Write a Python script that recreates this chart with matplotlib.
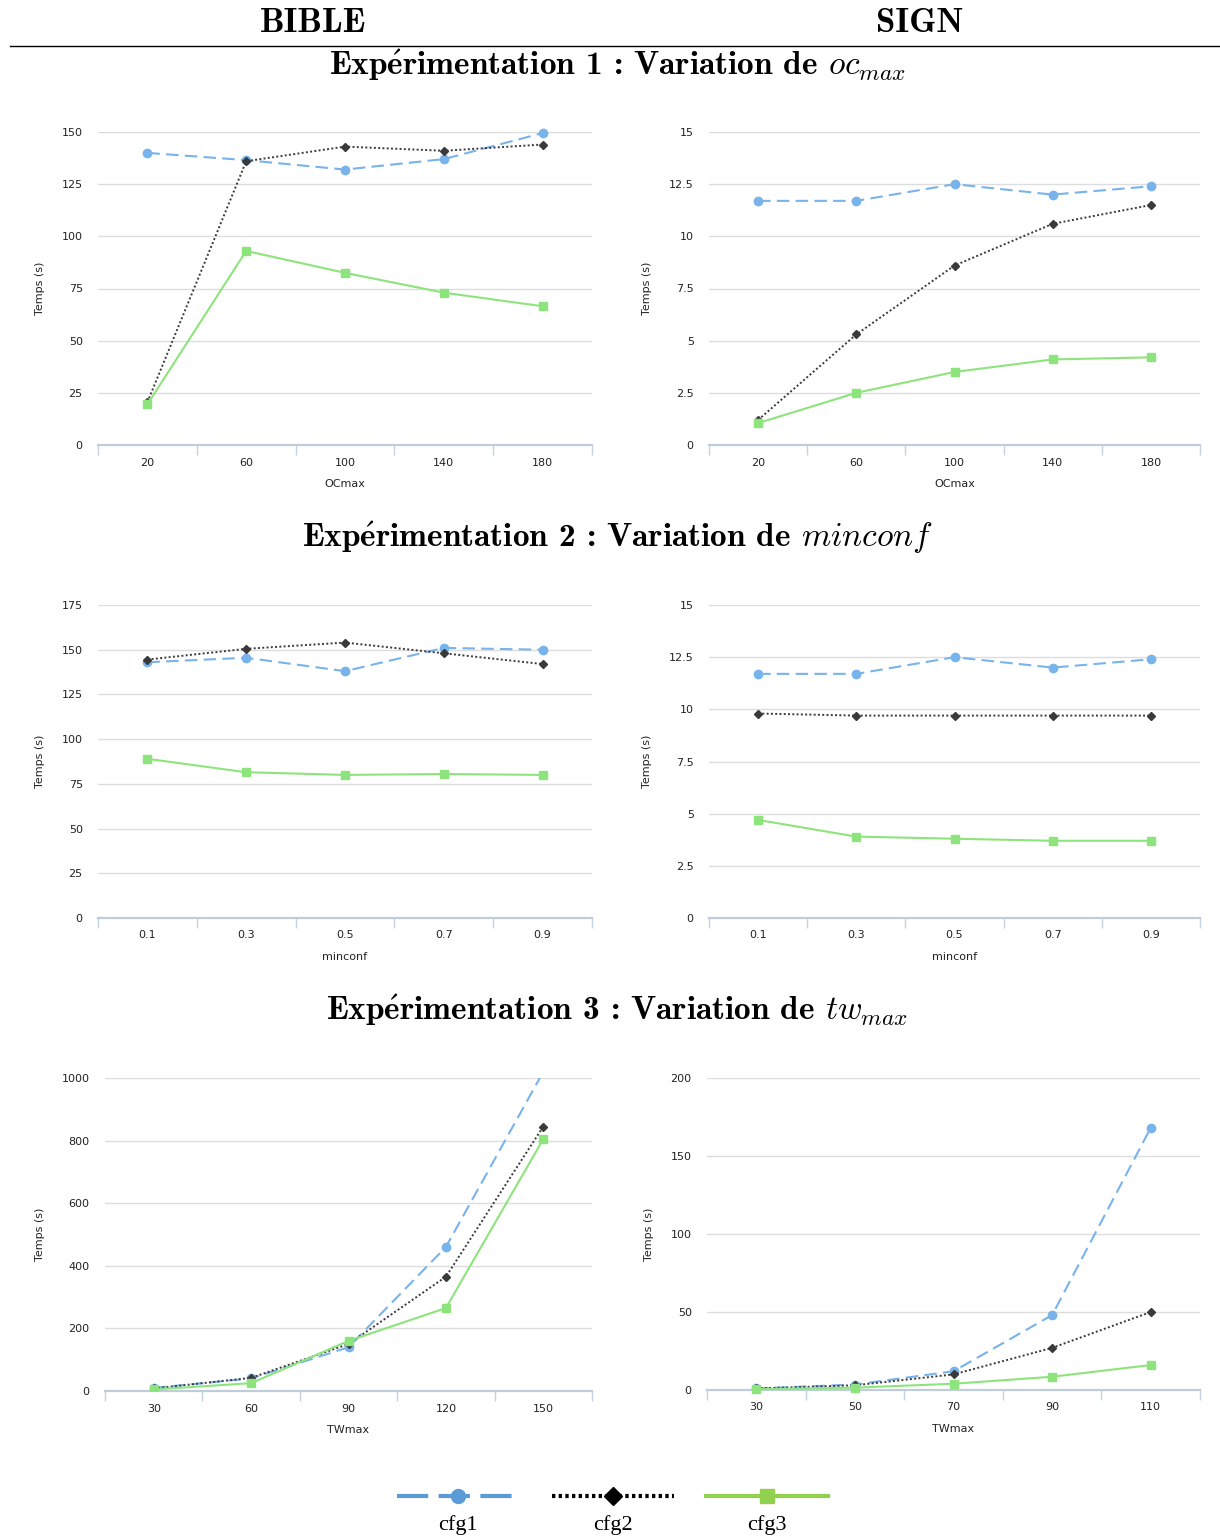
import matplotlib
matplotlib.use('Agg')
import matplotlib.pyplot as plt
from matplotlib.lines import Line2D
from matplotlib.ticker import FuncFormatter, FixedLocator

plt.rcParams['mathtext.fontset'] = 'cm'
plt.rcParams['font.family'] = ['DejaVu Sans']

W, H = 1220, 1539

# category labels
oc_values = ['20', '60', '100', '140', '180']
minconf_values = ['0.1', '0.3', '0.5', '0.7', '0.9']
tw_bible_values = ['30', '60', '90', '120', '150']
tw_sign_values = ['30', '50', '70', '90', '110']

# Experimentation 1 (OCmax)
bible1_cfg1 = [140, 136.5, 132, 137, 149.5]
bible1_cfg2 = [20.5, 136, 143, 141, 144]
bible1_cfg3 = [19.5, 93, 82.5, 73, 66.5]
sign1_cfg1 = [11.7, 11.7, 12.5, 12.0, 12.4]
sign1_cfg2 = [1.2, 5.3, 8.6, 10.6, 11.5]
sign1_cfg3 = [1.05, 2.5, 3.5, 4.1, 4.2]

# Experimentation 2 (minconf)
bible2_cfg1 = [143, 145.5, 138, 151, 150]
bible2_cfg2 = [144.5, 150.5, 154, 148, 142]
bible2_cfg3 = [89, 81.5, 80, 80.5, 80]
sign2_cfg1 = [11.7, 11.7, 12.5, 12.0, 12.4]
sign2_cfg2 = [9.8, 9.7, 9.7, 9.7, 9.7]
sign2_cfg3 = [4.7, 3.9, 3.8, 3.7, 3.7]

# Experimentation 3 (TWmax)
bible3_cfg1 = [10, 40, 140, 460, 1020]
bible3_cfg2 = [8, 42, 150, 365, 845]
bible3_cfg3 = [5, 25, 160, 265, 805]
sign3_cfg1 = [1, 3.5, 12, 48, 168]
sign3_cfg2 = [1, 3, 10, 27, 50]
sign3_cfg3 = [0.5, 1.5, 4, 8.5, 16]

styles = {
    'cfg1': dict(color='#79B3EB', linestyle=(0, (6, 3)), lw=1.5, marker='o', ms=6),
    'cfg2': dict(color='#3A3A3A', linestyle=(0, (1, 1.2)), lw=1.4, marker='D', ms=3.8),
    'cfg3': dict(color='#8EE47C', linestyle='-', lw=1.5, marker='s', ms=5.5),
}


def rect(left, top, right, bottom):
    return [left / W, 1 - bottom / H, (right - left) / W, (bottom - top) / H]


def fmt(v, pos):
    return '{:g}'.format(v)


def draw_chart(fig, box, cats, series, ymax, ystep, xlabel):
    ax = fig.add_axes(rect(*box))
    xs = range(len(cats))
    clip = max(max(s) for s in series) > ymax
    for name, vals in zip(['cfg1', 'cfg2', 'cfg3'], series):
        st = styles[name]
        ax.plot(xs, vals, color=st['color'], linestyle=st['linestyle'], lw=st['lw'],
                marker=st['marker'], markersize=st['ms'], markerfacecolor=st['color'],
                markeredgecolor=st['color'], clip_on=clip, zorder=3)
    ax.set_xlim(-0.5, len(cats) - 0.5)
    ax.set_ylim(0, ymax)
    yt = [i * ystep for i in range(int(round(ymax / ystep)) + 1)]
    ax.set_yticks(yt)
    ax.yaxis.set_major_formatter(FuncFormatter(fmt))
    ax.set_xticks(list(xs))
    ax.set_xticklabels(cats)
    ax.xaxis.set_minor_locator(FixedLocator([i - 0.5 for i in range(len(cats) + 1)]))
    ax.tick_params(axis='y', length=0, pad=11, labelsize=8, labelcolor='#222222')
    ax.tick_params(axis='x', which='major', length=0, pad=9, labelsize=8, labelcolor='#222222')
    ax.tick_params(axis='x', which='minor', length=7, width=1, color='#C5D2E0', direction='out')
    for s in ['top', 'right', 'left']:
        ax.spines[s].set_visible(False)
    ax.spines['bottom'].set_color('#BFCCDC')
    ax.spines['bottom'].set_linewidth(1.6)
    ax.grid(axis='y', color='#DDDDDD', lw=1)
    ax.set_axisbelow(True)
    ax.set_xlabel(xlabel, fontsize=8, color='#222222', labelpad=8)
    ax.set_ylabel('Temps (s)', fontsize=8, color='#222222', labelpad=12)
    return ax


fig = plt.figure(figsize=(W / 100, H / 100), dpi=100)

# header
fig.text(313 / W, 1 - 23 / H, 'BIBLE', ha='center', va='center', fontsize=25, family=['cmb10'])
fig.text(920 / W, 1 - 23 / H, 'SIGN', ha='center', va='center', fontsize=25, family=['cmb10'])
fig.add_artist(Line2D([10 / W, 1], [1 - 46 / H, 1 - 46 / H], color='black', lw=1))

titles = [
    (65, r'Exp$\mathbf{\acute{e}}$rimentation 1 : Variation de $oc_{max}$'),
    (538, r'Exp$\mathbf{\acute{e}}$rimentation 2 : Variation de $minconf$'),
    (1010, r'Exp$\mathbf{\acute{e}}$rimentation 3 : Variation de $tw_{max}$'),
]
for y, t in titles:
    fig.text(617 / W, 1 - y / H, t, ha='center', va='center', fontsize=24, family=['cmb10'])

draw_chart(fig, (98, 132, 592, 445), oc_values, [bible1_cfg1, bible1_cfg2, bible1_cfg3], 150, 25, 'OCmax')
draw_chart(fig, (709, 132, 1200, 445), oc_values, [sign1_cfg1, sign1_cfg2, sign1_cfg3], 15, 2.5, 'OCmax')
draw_chart(fig, (98, 605, 592, 918), minconf_values, [bible2_cfg1, bible2_cfg2, bible2_cfg3], 175, 25, 'minconf')
draw_chart(fig, (709, 605, 1200, 918), minconf_values, [sign2_cfg1, sign2_cfg2, sign2_cfg3], 15, 2.5, 'minconf')
draw_chart(fig, (105, 1078, 592, 1391), tw_bible_values, [bible3_cfg1, bible3_cfg2, bible3_cfg3], 1000, 200, 'TWmax')
draw_chart(fig, (707, 1078, 1200, 1390), tw_sign_values, [sign3_cfg1, sign3_cfg2, sign3_cfg3], 200, 50, 'TWmax')

# legend below the charts
leg_names = ['cfg1', 'cfg2', 'cfg3']
leg_styles = [
    dict(color='#5B9BD5', linestyle=(0, (7.5, 2.5)), lw=3, marker='o', ms=10),
    dict(color='#000000', linestyle=(0, (0.8, 0.8)), lw=3, marker='D', ms=9),
    dict(color='#92D050', linestyle='-', lw=3, marker='s', ms=10),
]
lax = fig.add_axes(rect(380, 1470, 850, 1539))
lax.set_xlim(0, 3)
lax.set_ylim(0, 1)
lax.axis('off')
for i, (name, st) in enumerate(zip(leg_names, leg_styles)):
    cx = 0.5 + i * 0.985
    lax.plot([cx - 0.39, cx, cx + 0.39], [0.63, 0.63, 0.63], color=st['color'], linestyle=st['linestyle'],
             lw=st['lw'], marker=st['marker'], markersize=st['ms'], markevery=[1],
             markerfacecolor=st['color'], markeredgecolor=st['color'])
    lax.text(cx, 0.2, name, ha='center', va='center', fontsize=16, family='Liberation Serif')

fig.savefig('out.png', dpi=100)
